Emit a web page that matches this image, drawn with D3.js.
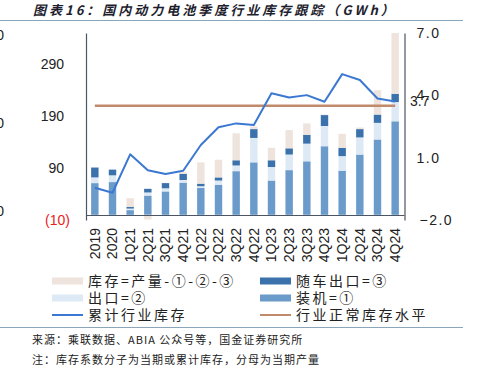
<!DOCTYPE html>
<html>
<head>
<meta charset="utf-8">
<script src="https://cdn.jsdelivr.net/npm/d3@7"></script>
<style>
    body { margin: 0; background: #fff; }
    svg { display: block; }
    .ax text { font-family: "Liberation Sans", "Noto Sans CJK SC", sans-serif; font-size: 14px; fill: #222; }
    .cjk { font-family: "Noto Sans CJK SC", sans-serif; }
</style>
</head>
<body>
<svg id="viz" width="477" height="369"></svg>
<script>
// quarters / years on the x axis
var cats = ["2019", "2020", "1Q21", "2Q21", "3Q21", "4Q21", "1Q22", "2Q22", "3Q22", "4Q22",
            "1Q23", "2Q23", "3Q23", "4Q23", "1Q24", "2Q24", "3Q24", "4Q24"];

// GWh, left axis
var installed = [61, 63, 9, 37, 45, 62, 52, 58, 84, 101, 66, 86, 103, 132, 85, 116, 145, 180];
var exportOut = [11, 13, 3, 6, 6, 5, 3, 8, 11, 47, 26, 30, 34, 39, 28, 33, 32, 37];
var carExport = [19, 11, 3, 7, 10, 12, 5, 6, 10, 17, 13, 12, 17, 21, 16, 16, 16, 16];
var inventory = [0, 0, 17, -9, 0, 3, 41, 34, 52, 5, 24, 35, 22, 1, 27, 3, 47, 117];

// inventory coefficient, right axis
var cumCoef = [-0.45, -0.69, 1.16, 0.39, 0.21, 0.37, 1.61, 2.46, 2.65, 2.57,
               4.10, 3.90, 4.01, 3.69, 5.02, 4.74, 3.85, 3.7];
var normalCoef = 3.5;

var leftTicks = [-10, 90, 190, 290];
var rightTicks = [-2, 1, 4, 7];
var hiddenTicks = [0, 200, 400];

var seriesNames = ["库存=产量-①-②-③", "随车出口=③", "出口=②", "装机=①", "累计行业库存", "行业正常库存水平"];

var colors = {
    inv: "#efe4dd",
    exp: "#dde9f5",
    car: "#3b72ac",
    ins: "#6b9bcb",
    cum: "#3b78d2",
    norm: "#c08a6c"
};

var svg = d3.select("#viz");

var x = d3.scaleBand().domain(cats).range([86, 404]).paddingInner(0.58).paddingOuter(0.29);
var yL = d3.scaleLinear().domain([-10, 350]).range([220, 33]);
var yR = d3.scaleLinear().domain([-2, 7]).range([220, 33]);
var yHidden = d3.scaleLinear().domain([0, 400]).range([211, 35]);

// title + rules
svg.append("text")
    .attr("class", "cjk")
    .attr("x", 33).attr("y", 15)
    .attr("font-size", 13).attr("font-weight", "bold").attr("font-style", "italic")
    .attr("letter-spacing", 3)
    .attr("fill", "#1e1e2e")
    .text("图表16：国内动力电池季度行业库存跟踪（GWh）");

svg.append("line").attr("x1", 0).attr("x2", 463).attr("y1", 20.5).attr("y2", 20.5)
    .attr("stroke", "#8ba6ba").attr("stroke-width", 1.2);
svg.append("line").attr("x1", 0).attr("x2", 463).attr("y1", 327.5).attr("y2", 327.5)
    .attr("stroke", "#8ba6ba").attr("stroke-width", 1.2);

// stacked bars
var rows = cats.map(function(c, i){
    return { cat: c, ins: installed[i], exp: exportOut[i], car: carExport[i], inv: inventory[i] };
});
var keys = ["ins", "exp", "car", "inv"];
var stacked = d3.stack().keys(keys).offset(d3.stackOffsetDiverging)(rows);

svg.append("g").selectAll("g")
    .data(stacked)
    .enter()
    .append("g")
    .attr("fill", function(d){ return colors[d.key]; })
    .selectAll("rect")
    .data(function(d){ return d; })
    .enter()
    .append("rect")
    .attr("x", function(d){ return x(d.data.cat); })
    .attr("width", x.bandwidth())
    .attr("y", function(d){ return yL(Math.max(d[0], d[1])); })
    .attr("height", function(d){ return Math.abs(yL(d[0]) - yL(d[1])); });

// lines
var cx = function(c){ return x(c) + x.bandwidth() / 2; };

svg.append("line")
    .attr("x1", cx(cats[0])).attr("x2", cx(cats[cats.length - 1]))
    .attr("y1", yR(normalCoef)).attr("y2", yR(normalCoef))
    .attr("stroke", colors.norm).attr("stroke-width", 2.5);

var lineGen = d3.line()
    .x(function(d, i){ return cx(cats[i]); })
    .y(function(d){ return yR(d); });

svg.append("path")
    .datum(cumCoef)
    .attr("d", lineGen)
    .attr("fill", "none")
    .attr("stroke", colors.cum)
    .attr("stroke-width", 2)
    .attr("stroke-linejoin", "round");

// axes
var axL = svg.append("g").attr("class", "ax").attr("transform", "translate(86,0)")
    .call(d3.axisLeft(yL).tickValues(leftTicks).tickSize(0).tickPadding(22)
        .tickFormat(function(d){ return d < 0 ? "(" + (-d) + ")" : d; }));
axL.select(".domain").attr("stroke", "#4b5563").attr("stroke-width", 1.2);
axL.selectAll("text").filter(function(d){ return d < 0; })
    .style("fill", "#e8231c").attr("x", -16);

var axR = svg.append("g").attr("class", "ax").attr("transform", "translate(404.5,0)")
    .call(d3.axisRight(yR).tickValues(rightTicks).tickSize(0).tickPadding(12)
        .tickFormat(d3.format(".1f")));
axR.select(".domain").attr("stroke", "#4b5563").attr("stroke-width", 1.2);
axR.selectAll("text").attr("letter-spacing", 1.5)
    .filter(function(d){ return d < 0; }).attr("x", 15);

var axX = svg.append("g").attr("class", "ax").attr("transform", "translate(0,215)")
    .call(d3.axisBottom(x).tickSize(0));
axX.select(".domain").attr("stroke", "#4b5563").attr("stroke-width", 1.2);
axX.selectAll("text")
    .attr("transform", "rotate(-90)")
    .attr("text-anchor", "end")
    .attr("x", -13).attr("y", 0).attr("dy", "0.35em");

// cut-off axis at far left
svg.append("g").attr("class", "ax").attr("transform", "translate(4,0)")
    .call(d3.axisLeft(yHidden).tickValues(hiddenTicks).tickSize(0).tickPadding(0))
    .select(".domain").remove();

// end label of the cumulative line
svg.append("text")
    .attr("x", 410).attr("y", yR(cumCoef[cumCoef.length - 1])).attr("dy", "0.35em")
    .attr("font-family", "Liberation Sans, sans-serif").attr("font-size", 14).attr("fill", "#222")
    .text(d3.format(".1f")(cumCoef[cumCoef.length - 1]));

// legend
var legendItems = [
    { name: seriesNames[0], color: colors.inv, type: "rect", x: 52, y: 281 },
    { name: seriesNames[1], color: colors.car, type: "rect", x: 260, y: 281 },
    { name: seriesNames[2], color: colors.exp, type: "rect", x: 52, y: 298 },
    { name: seriesNames[3], color: colors.ins, type: "rect", x: 260, y: 298 },
    { name: seriesNames[4], color: colors.cum, type: "line", x: 52, y: 315 },
    { name: seriesNames[5], color: colors.norm, type: "line", x: 260, y: 315 }
];

var leg = svg.append("g").selectAll("g")
    .data(legendItems)
    .enter()
    .append("g")
    .attr("transform", function(d){ return "translate(" + d.x + "," + d.y + ")"; });

leg.filter(function(d){ return d.type === "rect"; })
    .append("rect")
    .attr("x", 0).attr("y", -3.5).attr("width", 31).attr("height", 7)
    .attr("fill", function(d){ return d.color; });
leg.filter(function(d){ return d.type === "line"; })
    .append("line")
    .attr("x1", 0).attr("x2", 31).attr("y1", 0).attr("y2", 0)
    .attr("stroke", function(d){ return d.color; }).attr("stroke-width", 2);
leg.append("text")
    .attr("class", "cjk")
    .attr("x", 36).attr("dy", "0.36em")
    .attr("font-size", 14).attr("letter-spacing", 2.5).attr("fill", "#222")
    .text(function(d){ return d.name; });

// source + note
svg.append("text").attr("class", "cjk")
    .attr("x", 32).attr("y", 340).attr("dy", "0.36em")
    .attr("font-size", 11).attr("letter-spacing", 1).attr("fill", "#222")
    .text("来源：乘联数据、ABIA 公众号等，国金证券研究所");
svg.append("text").attr("class", "cjk")
    .attr("x", 32).attr("y", 360).attr("dy", "0.36em")
    .attr("font-size", 11).attr("letter-spacing", 1).attr("fill", "#222")
    .text("注：库存系数分子为当期或累计库存，分母为当期产量");
</script>
</body>
</html>
